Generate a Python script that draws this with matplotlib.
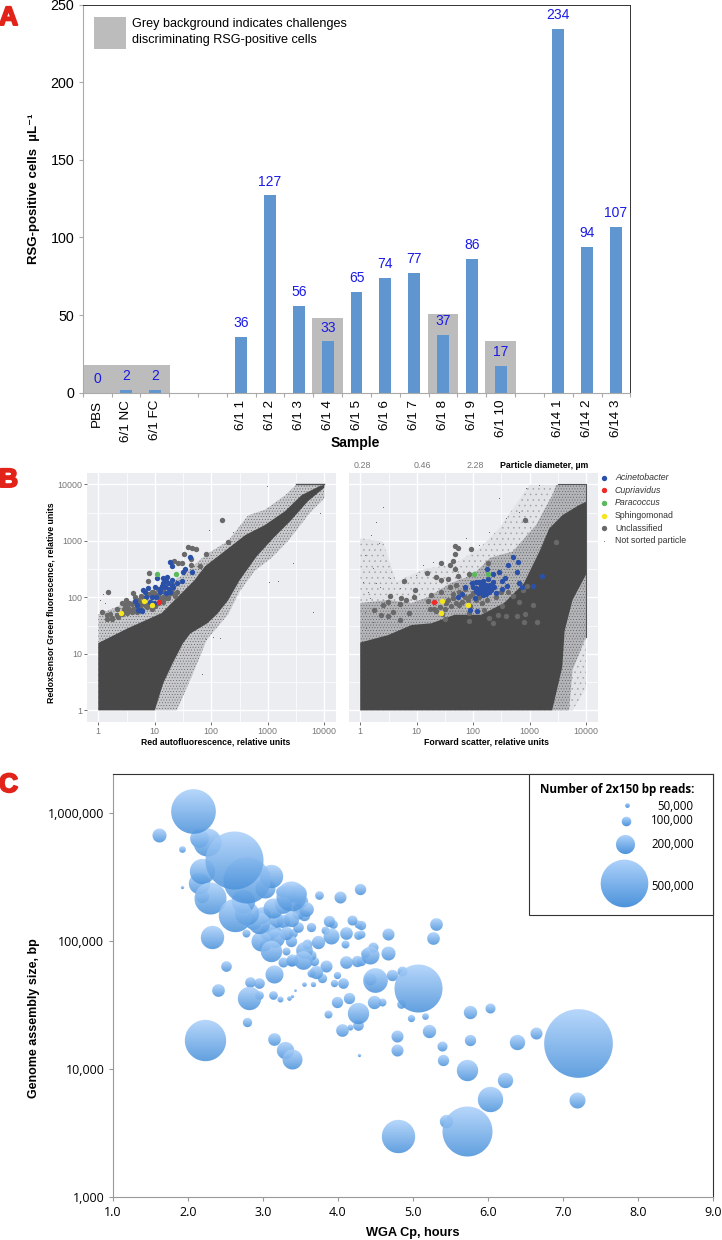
import numpy as np
import matplotlib
matplotlib.use("Agg")
import matplotlib.pyplot as plt
import matplotlib.patheffects as pe
from matplotlib.colors import to_rgb
from matplotlib.offsetbox import AnnotationBbox, OffsetImage
from matplotlib.patches import Rectangle
from matplotlib.ticker import FixedLocator, FuncFormatter, NullFormatter

plt.rcParams['font.family'] = ['Liberation Sans', 'DejaVu Sans']
plt.rcParams['hatch.linewidth'] = .3

# panel A
samples = ["PBS", "6/1 NC", "6/1 FC", "", "", "6/1 1", "6/1 2", "6/1 3", "6/1 4", "6/1 5",
           "6/1 6", "6/1 7", "6/1 8", "6/1 9", "6/1 10", "", "6/14 1", "6/14 2", "6/14 3"]
cell_counts = [0, 2, 2, None, None, 36, 127, 56, 33, 65, 74, 77, 37, 86, 17, None, 234, 94, 107]
grey_heights = [18, 18, 18, 0, 0, 0, 0, 0, 48, 0, 0, 0, 51, 0, 33, 0, 0, 0, 0]

# panel B, values are log10 of relative units
core_l_x = [0, 0, .53, 1.12, 1.47, 1.7, 1.89, 2.24, 2.6, 2.95, 3.3, 3.6, 3.92, 4,
            4, 3.71, 3.4, 3.1, 2.8, 2.5, 2.3, 2.1, 1.93, 1.63, 1.5, 1.32, 1.15, 1.0]
core_l_y = [0, 1.19, 1.456, 1.72, 2.07, 2.3, 2.55, 2.82, 3.1, 3.28, 3.52, 3.81, 3.97, 3.99,
            3.94, 3.7, 3.35, 3.05, 2.72, 2.3, 1.95, 1.7, 1.54, 1.36, 1.19, .84, .48, 0]
fringe_l_x = [0, 0, .5, 1.0, 1.5, 1.9, 2.3, 2.65, 2.95, 3.3, 3.5, 4, 4, 3.75, 3.36, 3.07, 2.77, 2.5, 2.3, 1.92, 1.68, 1.39]
fringe_l_y = [0, 1.7, 1.9, 2.1, 2.4, 2.75, 3.0, 3.45, 3.55, 3.8, 3.99, 4, 3.75, 3.5, 3.0, 2.7, 2.47, 2.1, 1.7, 1.25, .66, 0]
core_r_x = [0, 0, .49, .91, 1.26, 1.67, 2.14, 2.55, 2.9, 3.173, 3.35, 3.587, 3.88, 4, 4, 3.76, 3.62, 3.58, 3.47, 3.4]
core_r_y = [0, 1.2, 1.33, 1.51, 1.54, 1.69, 1.69, 1.9, 2.25, 2.807, 3.22, 3.457, 3.634, 3.69, 2.4, 1.95, 1.4, .77, .3, 0]
fringe_r_x = [0, 0, .49, .91, 1.19, 1.6, 2.0, 2.3, 2.7, 3.115, 3.406, 3.47, 4, 4, 3.76, 3.7]
fringe_r_y = [0, 1.9, 1.95, 1.9, 2.0, 2.25, 2.4, 2.7, 2.81, 3.28, 3.81, 3.988, 4, 1.3, .71, 0]
outer_r_x = [0, 0, .401, .637, 1.168, 1.64, 2.112, 2.46, 3.0, 3.47, 4, 4, 3.764]
outer_r_y = [0, 3.044, 2.985, 2.277, 2.513, 2.572, 2.867, 3.22, 3.99, 3.99, 4, .389, 0]

# edge pile-up of the sorter scale
limit_l_x = [3.5, 4]
limit_l_y = [4, 4]
limit_r_x = [3.5, 4, 4]
limit_r_y = [4, 4, 1.3]

stray_l_x = [2.979, 3.451, 3.027, 3.805, 1.829, 2.153, 2.035, 1.91, 3.186, 1.965, 2.389, 3.923, .03, .08, .12]
stray_l_y = [3.97, 2.602, 2.277, 1.746, .643, 1.274, 1.304, 1.27, 2.289, 3.192, 3.162, 3.487, 1.95, 2.05, 1.9]
stray_r_x = [.401, .271, .195, .33, .077, .224, .047, .136, .283, .519, .165, .342, .696, .991, 1.109, 1.286,
             1.64, 1.876, 2.112, 2.289, 2.584, 2.466, 2.938, 3.174, 2.82, .077, .224, .106]
stray_r_y = [3.605, 3.339, 3.103, 2.956, 2.749, 2.513, 2.277, 2.1, 2.248, 2.336, 1.982, 2.189, 2.159, 2.395, 2.572, 2.631,
             2.749, 3.044, 2.926, 3.162, 3.398, 3.752, 3.929, 3.988, 3.516, 1.746, 1.569, 1.451]

unclass_l_x = [2.195, 2.301, 1.9, 1.51, 1.593, 1.652, 1.729, 1.805, 1.646, 1.646, 1.339, 1.416, 1.475, .897, .873, .165,
               .071, .147, .206, .147, .236, .324, .413, .49, .531, .619, .678, .59, .767, .855, .973, 1.062, 1.15,
               1.239, 1.386, .472, .324, .442, .678, .855,
               .25, .35, .42, .5, .55, .62, .68, .74, .78, .82, .9, .95, 1.0, 1.05, 1.1, 1.15, 1.2, 1.25, 1.3, 1.35,
               .6, .7, .75, .8, .9, .95, 1.0, 1.05, 1.15, 1.3, .45, .55, .65]
unclass_l_y = [3.369, 2.979, 2.767, 2.761, 2.897, 2.867, 2.861, 2.549, 2.572, 2.678, 2.643, 2.602, 2.614, 2.431, 2.295, 2.1,
               1.74, 1.687, 1.705, 1.617, 1.628, 1.794, 1.894, 1.953, 1.805, 2.071, 1.923, 1.746, 1.894, 1.835, 2.1, 2.041, 1.923,
               1.982, 2.1, 1.864, 1.687, 1.746, 1.746, 2.041,
               1.62, 1.66, 1.70, 1.72, 1.78, 1.8, 1.82, 1.84, 1.78, 1.86, 1.88, 1.8, 1.84, 1.9, 1.98, 2.0, 1.98, 2.05, 2.08, 2.02,
               1.88, 1.95, 2.02, 1.98, 2.05, 2.1, 2.06, 2.15, 2.12, 2.15, 1.8, 1.9, 2.0]
acin_l_x = [.649, .737, .767, .796, .885, .838, .914, .944, 1.003, 1.032, 1.15, 1.18, 1.239, 1.298, 1.327, 1.268, 1.198,
            1.121, 1.091, 1.386, 1.475, 1.504, 1.54, 1.658, 1.617, 1.263, 1.304, .826, 1.209, .678, .708,
            1.15, 1.25, 1.1, 1.2, 1.3, 1.02, .98]
acin_l_y = [1.941, 1.776, 1.764, 2.13, 2.159, 2.012, 1.923, 2.012, 2.189, 2.336, 2.336, 2.189, 2.248, 2.307, 2.189, 2.1, 2.071,
            2.206, 2.1, 2.248, 2.289, 2.454, 2.501, 2.442, 2.708, 2.619, 2.555, 2.1, 2.366, 1.864, 1.776,
            2.25, 2.15, 2.15, 2.28, 2.22, 2.0, 1.9]
cupr_l_x = [1.074]
cupr_l_y = [1.912]
para_l_x = [1.044, 1.375]
para_l_y = [2.407, 2.419]
sphi_l_x = [.395, .802, .95]
sphi_l_y = [1.723, 1.935, 1.864]

unclass_r_x = [2.914, 3.463, 1.687, 1.723, 1.965, 1.687, 1.64, 1.581, 1.422, 1.681, 1.18, 1.345, 1.422, 1.552, 1.74, .767,
               .968, .95, .519, .236, .372, .401, .49, .578, .696, .726, .814, .496, .708, .855, 1.198, 1.257, 1.434, 1.581,
               1.699, 1.64, 1.758, 1.522, 1.404, 1.227, 1.493, 1.935, 1.923, 2.201, 2.277, 2.348, 2.437, 2.507, 2.584, 2.625,
               2.702, 2.808, 2.779, 2.92, 2.903, 3.133, 3.068, 2.879, 2.956, 2.26, 1.923,
               1.5, 1.6, 1.7, 1.8, 1.85, 1.9, 1.95, 2.0, 2.05, 2.1, 1.55, 1.65, 1.75, 1.85, 2.15, 2.25, 1.95, 1.3, 1.35, 1.45, 2.4, 2.5]
unclass_r_y = [3.369, 2.979, 2.903, 2.873, 2.855, 2.761, 2.643, 2.572, 2.614, 2.501, 2.437, 2.366, 2.307, 2.324, 2.378, 2.295,
               2.13, 2.0, 2.018, 1.77, 1.687, 1.864, 1.923, 1.746, 1.882, 1.982, 1.953, 1.67, 1.605, 1.729, 1.935, 2.041, 2.1, 2.189,
               2.218, 1.982, 1.864, 1.894, 1.835, 1.794, 1.617, 1.581, 1.717, 1.776, 1.64, 1.552, 1.687, 1.853, 1.676, 2.088,
               2.03, 1.923, 1.676, 1.705, 1.569, 1.569, 1.858, 2.13, 2.206, 2.602, 2.407,
               1.8, 1.85, 1.9, 1.92, 2.0, 1.95, 2.03, 2.08, 1.95, 2.0, 1.95, 2.05, 2.1, 2.15, 1.9, 1.95, 1.85, 1.8, 1.75, 1.7, 2.0, 2.1]
acin_r_x = [2.702, 2.614, 2.802, 2.785, 3.215, 3.068, 2.814, 2.873, 2.566, 2.513, 2.596, 2.513, 2.454, 2.36, 2.242, 1.864,
            1.799, 1.74, 1.982, 1.994, 2.053, 2.112, 2.171, 2.26, 2.348, 2.378, 2.319, 2.23, 2.142, 2.083, 2.171, 2.024,
            1.947, 2.065, 2.407, 2.289, 2.053, 2.23,
            2.1, 2.15, 2.18, 2.1, 2.2, 2.05, 2.12, 2.27, 2.3, 2.17, 2.22]
acin_r_y = [2.708, 2.566, 2.619, 2.442, 2.378, 2.195, 2.26, 2.189, 2.348, 2.289, 2.206, 2.147, 2.448, 2.419, 2.501, 2.189,
            2.065, 2.012, 2.248, 2.189, 2.159, 2.277, 2.289, 2.324, 2.277, 2.189, 2.13, 2.218, 2.189, 2.071, 2.041, 1.982,
            1.77, 1.764, 2.071, 2.1, 2.277, 2.1,
            2.15, 2.12, 2.22, 2.1, 2.16, 2.12, 2.25, 2.17, 2.22, 2.05, 2.05]
cupr_r_x = [1.304]
cupr_r_y = [1.917]
para_r_x = [2.018, 2.26]
para_r_y = [2.407, 2.419]
sphi_r_x = [1.445, 1.422, 1.9]
sphi_r_y = [1.935, 1.729, 1.864]

legend_names = ["Acinetobacter", "Cupriavidus", "Paracoccus", "Sphingomonad", "Unclassified", "Not sorted particle"]
legend_colors = ["#2b50a8", "#ee2a2a", "#5cb85c", "#f5e51b", "#696969", "#888888"]
diameter_labels = ["0.28", "0.46", "2.28"]

# panel C
wga_cp = [2.07, 1.63, 1.93, 1.93, 2.26, 2.16, 2.62, 2.78, 2.2, 2.16, 2.30, 2.2, 2.64, 2.78, 2.33, 3.12, 3.03, 2.96, 3.38,
          3.14, 3.25, 3.22, 3.40, 3.58, 3.48, 3.55, 3.38, 3.47, 3.75, 4.03, 4.3, 3.17, 2.98, 3.12, 3.03, 3.16, 2.78, 3.38,
          3.41, 3.56, 3.54, 3.65, 3.74, 3.6, 3.89, 3.94, 3.91, 3.83, 4.12, 4.19, 4.27, 4.27, 4.10, 4.12, 4.26, 3.85, 3.27,
          3.38, 3.32, 2.52, 3.15, 3.72, 3.65, 3.80, 4.0, 3.95, 4.08, 3.55, 3.67, 2.83, 2.95, 2.41, 2.82, 2.95, 3.14, 3.23,
          3.36, 3.39, 3.44, 4.16, 3.99, 3.88, 2.80, 2.24, 4.28, 4.06, 4.17, 4.28, 3.15, 3.30, 3.40, 4.29,
          5.31, 5.27, 4.67, 4.31, 4.32, 4.68, 4.44, 4.47, 4.37, 4.31, 4.50, 4.44, 4.73, 4.86, 5.07, 4.49, 4.59, 4.85, 4.98,
          5.17, 5.22, 5.77, 6.03, 4.79, 4.79, 5.39, 5.77, 5.41, 5.73, 6.39, 6.64, 7.21, 6.23, 6.03, 7.19, 5.45, 5.72, 4.81,
          3.27, 3.18, 3.32, 3.07, 3.47, 3.34, 3.47, 3.52, 3.27, 3.0, 2.87, 2.74, 3.40, 3.65, 3.69]
assembly_bp = [1030000, 665000, 520000, 263000, 590000, 630000, 426000, 300000, 352000, 282000, 215000, 222000, 160000,
               164000, 107000, 318000, 258000, 137000, 222000, 182000, 243000, 200000, 219000, 178000, 185000, 158000,
               149000, 128000, 228000, 219000, 255000, 106000, 100000, 83000, 93000, 122000, 116000, 100000, 115000, 85000,
               71000, 128000, 98000, 95000, 144000, 135000, 110000, 122000, 116000, 145000, 111000, 135000, 95000, 68000,
               69000, 64000, 68000, 69000, 83000, 64000, 55000, 57000, 56000, 51000, 54000, 47000, 47000, 46000, 46000, 48000,
               47000, 41000, 36000, 38000, 38000, 35000, 36000, 37000, 41000, 36000, 33000, 27000, 23000, 16800, 27200, 20000,
               21400, 22000, 17000, 13900, 11900, 12900,
               135000, 106000, 113000, 133000, 113000, 80000, 78000, 89000, 81000, 69000, 49000, 50000, 54000, 58000, 43000,
               33000, 33000, 32000, 24900, 25900, 19800, 27700, 30100, 18100, 14000, 15000, 16800, 11700, 9700, 16100, 18900,
               16000, 8200, 5800, 5660, 3930, 3240, 2960,
               142000, 146000, 115000, 118000, 164000, 235000, 235000, 203000, 191000, 160000, 142000, 203000, 71000, 78000, 69000]
read_counts = [469000, 147000, 70000, 35000, 294000, 196000, 609000, 483000, 266000, 224000, 336000, 140000, 350000,
               245000, 245000, 245000, 210000, 224000, 315000, 210000, 112000, 105000, 105000, 154000, 105000, 119000,
               161000, 112000, 91000, 126000, 119000, 196000, 210000, 224000, 119000, 140000, 84000, 119000, 91000, 175000,
               196000, 98000, 140000, 105000, 119000, 91000, 168000, 84000, 133000, 105000, 91000, 84000, 84000, 133000,
               119000, 126000, 105000, 105000, 84000, 112000, 189000, 140000, 84000, 98000, 77000, 77000, 112000, 49000,
               56000, 112000, 112000, 133000, 245000, 91000, 91000, 63000, 49000, 35000, 28000, 119000, 119000, 84000, 98000,
               434000, 224000, 133000, 63000, 112000, 133000, 182000, 210000, 35000,
               133000, 133000, 126000, 98000, 84000, 147000, 189000, 105000, 91000, 98000, 259000, 126000, 119000, 105000,
               504000, 140000, 84000, 91000, 77000, 70000, 140000, 140000, 105000, 126000, 126000, 105000, 119000, 119000,
               224000, 161000, 126000, 721000, 161000, 266000, 168000, 140000, 525000, 350000,
               140000, 154000, 140000, 175000, 126000, 175000, 175000, 140000, 175000, 175000, 175000, 245000, 126000, 105000, 98000]
legend_reads = [50000, 100000, 200000, 500000]
legend_read_labels = ["50,000", "100,000", "200,000", "500,000"]

W, H = 722, 1240
fig = plt.figure(figsize=(W / 100, H / 100), dpi=100, facecolor="white")


def px_axes(left, top, right, bottom):
    return fig.add_axes([left / W, 1 - bottom / H, (right - left) / W, (bottom - top) / H])


def bubble_image(reads):
    # radius follows the read count, top of the bubble is lighter
    r = reads / 21000
    n = int(np.ceil(r)) + 2
    yy, xx = np.mgrid[-n:n + 1, -n:n + 1]
    dist = np.sqrt(xx ** 2 + yy ** 2)
    t = np.clip((yy + r) / (2 * r), 0, 1)[..., None]
    rgb = np.array(to_rgb("#aed2fb")) * (1 - t) + np.array(to_rgb("#4c93db")) * t
    alpha = np.clip(r + .5 - dist, 0, 1)[..., None]
    return np.concatenate([rgb, alpha], axis=2)


def add_bubble(ax, x, y, reads, alpha=1.0):
    img = OffsetImage(bubble_image(reads), zoom=1, dpi_cor=False, alpha=alpha)
    ab = AnnotationBbox(img, (x, y), xycoords="data", frameon=False, pad=0, annotation_clip=False)
    ax.add_artist(ab)


# A
ax = px_axes(82.7, 4.5, 630.4, 392.7)
pos = np.arange(len(samples))
ax.bar(pos, grey_heights, width=1.06, color="#bcbcbc", zorder=1)
for p, v in zip(pos, cell_counts):
    if v is None:
        continue
    ax.bar(p, v, width=.41, color="#5f96cf", zorder=2)
    ax.annotate(str(v), (p, v), xytext=(0, 5), textcoords="offset points", ha="center", va="bottom",
                color="#1a1ae6", fontsize=10, zorder=3)
ax.set_xlim(-.5, 18.5)
ax.set_ylim(0, 250)
ax.set_yticks([0, 50, 100, 150, 200, 250])
ax.set_xticks(pos)
ax.set_xticklabels(samples, rotation=90, fontsize=9.7)
ax.xaxis.set_minor_locator(FixedLocator(np.arange(-.5, 19)))
ax.tick_params(axis="x", which="major", length=0, pad=5)
ax.tick_params(axis="x", which="minor", length=3, color="#aaaaaa", width=.8)
ax.tick_params(axis="y", length=3, color="#aaaaaa", width=.8, labelsize=10.3, pad=3)
for s in ["left", "bottom"]:
    ax.spines[s].set_color("#aaaaaa")
for s in ["top", "right"]:
    ax.spines[s].set_color("#333333")
    ax.spines[s].set_linewidth(.7)


# B
def panel_b(ax, core_x, core_y, dots):
    ax.set_facecolor("#ebedf1")
    ax.set_xscale("log")
    ax.set_yscale("log")
    ax.set_xlim(10 ** -.2, 10 ** 4.207)
    ax.set_ylim(10 ** -.207, 10 ** 4.2)
    ticks = [1, 10, 100, 1000, 10000]
    minor = [10 ** (k + .5) for k in range(-1, 5)]
    for axis in [ax.xaxis, ax.yaxis]:
        axis.set_major_locator(FixedLocator(ticks))
        axis.set_minor_locator(FixedLocator(minor))
        axis.set_major_formatter(FuncFormatter(lambda v, _: "%d" % v))
        axis.set_minor_formatter(NullFormatter())
    ax.grid(True, which="major", color="white", lw=1, zorder=1)
    ax.grid(True, which="minor", color="white", lw=.5, zorder=1)
    ax.set_axisbelow(True)
    ax.tick_params(which="minor", length=0)
    ax.tick_params(which="major", length=2, width=.6, color="#555555", labelsize=6.4, labelcolor="#777777", pad=1.5)
    for s in ax.spines.values():
        s.set_visible(False)
    ax.fill(10 ** np.array(core_x), 10 ** np.array(core_y), color="#484848", lw=0, zorder=3)
    for xs, ys, col in dots:
        ax.scatter(10 ** np.array(xs), 10 ** np.array(ys), s=15, color=col, lw=0, zorder=4)


def speckle(ax, xs, ys, face, edge, dots):
    # sparse particles around the dense cloud
    ax.fill(10 ** np.array(xs), 10 ** np.array(ys), facecolor=face, edgecolor=edge, hatch=dots, lw=0, zorder=2)


ax_l = px_axes(87, 473, 336, 722)
speckle(ax_l, fringe_l_x, fringe_l_y, "#c8c9cc", "#5a5a5a", "......")
ax_l.scatter(10 ** np.array(stray_l_x), 10 ** np.array(stray_l_y), s=.5, color="#666666", lw=0, zorder=2)
panel_b(ax_l, core_l_x, core_l_y, [(unclass_l_x, unclass_l_y, "#696969"), (acin_l_x, acin_l_y, "#2b50a8"),
                                   (para_l_x, para_l_y, "#5cb85c"), (sphi_l_x, sphi_l_y, "#f5e51b"),
                                   (cupr_l_x, cupr_l_y, "#ee2a2a")])
ax_l.plot(10 ** np.array(limit_l_x), 10 ** np.array(limit_l_y), color="#555555", lw=1, zorder=3)

ax_r = px_axes(349, 473, 597.7, 722)
speckle(ax_r, outer_r_x, outer_r_y, "#e2e3e7", "#9a9a9c", "...")
speckle(ax_r, fringe_r_x, fringe_r_y, "#b4b5b8", "#5a5a5a", "......")
ax_r.scatter(10 ** np.array(stray_r_x), 10 ** np.array(stray_r_y), s=.5, color="#666666", lw=0, zorder=2)
panel_b(ax_r, core_r_x, core_r_y, [(unclass_r_x, unclass_r_y, "#696969"), (acin_r_x, acin_r_y, "#2b50a8"),
                                   (para_r_x, para_r_y, "#5cb85c"), (sphi_r_x, sphi_r_y, "#f5e51b"),
                                   (cupr_r_x, cupr_r_y, "#ee2a2a")])
ax_r.plot(10 ** np.array(limit_r_x), 10 ** np.array(limit_r_y), color="#555555", lw=.8, zorder=3)
ax_r.tick_params(axis="y", left=False, labelleft=False)

# C
ax_c = px_axes(112.7, 774.3, 713.3, 1197.3)
ax_c.set_yscale("log")
ax_c.set_xlim(1, 9)
ax_c.set_ylim(1000, 10 ** (3 + 423 / 128))
order = np.argsort(read_counts)
for i in order:
    add_bubble(ax_c, wga_cp[i], assembly_bp[i], read_counts[i], alpha=.88)
ax_c.set_xticks(np.arange(1, 10))
ax_c.xaxis.set_major_formatter(FuncFormatter(lambda v, _: "%.1f" % v))
ax_c.yaxis.set_major_locator(FixedLocator([1000, 10000, 100000, 1000000]))
ax_c.yaxis.set_major_formatter(FuncFormatter(lambda v, _: "{:,.0f}".format(v)))
ax_c.yaxis.set_minor_locator(FixedLocator([]))
for lab in ax_c.get_xticklabels() + ax_c.get_yticklabels():
    lab.set_fontfamily(["Open Sans", "DejaVu Sans"])
ax_c.tick_params(length=3, color="#999999", width=.8, labelsize=9, pad=3)
for s in ["left", "bottom"]:
    ax_c.spines[s].set_color("#999999")
for s in ["top", "right"]:
    ax_c.spines[s].set_color("#333333")
    ax_c.spines[s].set_linewidth(.8)

# text and keys, placed on a full figure layer in pixels
top = fig.add_axes([0, 0, 1, 1], facecolor="none")
top.set_xlim(0, W)
top.set_ylim(H, 0)
top.axis("off")

top.add_patch(Rectangle((94, 17), 32, 32, color="#bcbcbc", lw=0))
top.text(132, 24, "Grey background indicates challenges", fontsize=9.1, va="center")
top.text(132, 40, "discriminating RSG-positive cells", fontsize=9.1, va="center")
top.text(355, 443, "Sample", fontsize=10, fontweight="bold", ha="center", va="center")
top.text(34, 189, "RSG-positive cells  \u00b5L\u207b\u00b9", fontsize=9.5, fontweight="bold", rotation=90, ha="center", va="center")

top.text(51, 603, "RedoxSensor Green fluorescence, relative units", fontsize=6.3, fontweight="bold", rotation=90,
         ha="center", va="center")
top.text(216, 742, "Red autofluorescence, relative units", fontsize=6.25, fontweight="bold", ha="center", va="center")
top.text(487, 742, "Forward scatter, relative units", fontsize=6.3, fontweight="bold", ha="center", va="center")
for x_px, lab in zip([362.7, 422, 475.7], diameter_labels):
    top.text(x_px, 465, lab, fontsize=6.4, color="#777777", ha="center", va="center")
top.text(500, 465, "Particle diameter, \u00b5m", fontsize=6.3, fontweight="bold", va="center")
for i, (name, col) in enumerate(zip(legend_names, legend_colors)):
    y = 477.7 + i * 12.6
    size = 15 if i < 5 else .5
    top.scatter([604], [y], s=size, color=col, lw=0)
    style = "italic" if i < 3 else "normal"
    top.text(615, y, name, fontsize=6.3, style=style, color="#333333", va="center")

top.add_patch(Rectangle((529.3, 774.3), 184, 141, facecolor="white", edgecolor="#333333", lw=.8))
top.text(540, 789, "Number of 2x150 bp reads:", fontsize=8.4, fontweight="bold", va="center",
         family=["Open Sans", "DejaVu Sans"])
for reads, lab, bx, by, ly in zip(legend_reads, legend_read_labels, [627, 626.7, 625.3, 624.7],
                                  [805.7, 822, 845, 883.7], [806, 821, 845, 886]):
    add_bubble(top, bx, by, reads)
    top.text(693.7, ly, lab, fontsize=8.3, ha="right", va="center", family=["Open Sans", "DejaVu Sans"])

top.text(34, 1018, "Genome assembly size, bp", fontsize=9, fontweight="bold", rotation=90, ha="center", va="center")
top.text(413, 1233, "WGA Cp, hours", fontsize=9.2, fontweight="bold", ha="center", va="center")

for lab, y in zip("ABC", [25, 487, 792]):
    t = top.text(8.5, y, lab, fontsize=19, fontweight="bold", color="#e2231a", ha="center", va="baseline")
    t.set_path_effects([pe.withStroke(linewidth=1.4, foreground="#e2231a")])

fig.savefig("out.png", dpi=100)
